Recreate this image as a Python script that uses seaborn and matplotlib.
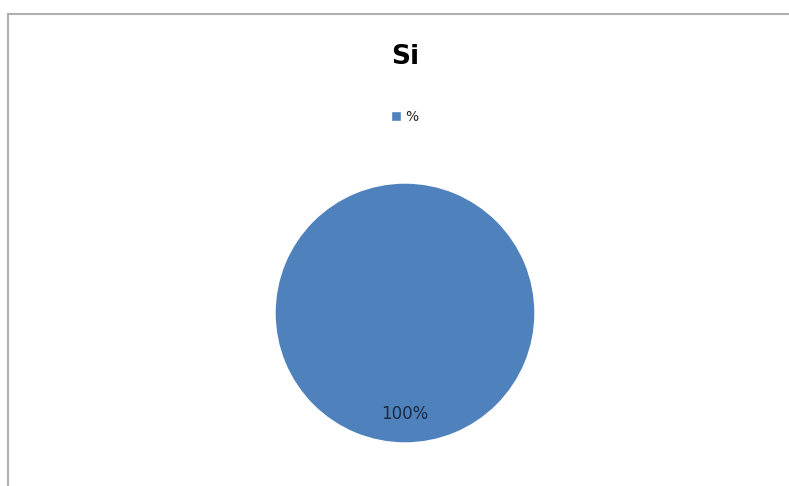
import matplotlib
matplotlib.use("Agg")
import matplotlib.pyplot as plt
import seaborn as sns
from matplotlib.patches import Rectangle

# Chart data
labels = ['%']
values = [100]
title = 'Si'

sns.set_theme(style="white")
plt.rcParams['font.family'] = ['DejaVu Sans']

fig = plt.figure(figsize=(7.89, 4.86), dpi=100)
W, H = 789, 486

# Frame of the chart area (cut off on right and bottom)
fig.patches.append(Rectangle((8 / W, -0.1), 1.2, (H - 14) / H + 0.1,
                             transform=fig.transFigure, fill=False,
                             edgecolor='#b0b0b0', linewidth=1.5))

# Pie axes: centre (405, 313), radius 130 px
r = 130
cx, cy = 405, 313
ax = fig.add_axes([(cx - r) / W, (H - cy - r) / H, 2 * r / W, 2 * r / H])
wedges, texts, autotexts = ax.pie(values, colors=['#4F81BD'], startangle=90,
                                  autopct='%1.0f%%', pctdistance=0.8,
                                  textprops={'fontsize': 12, 'color': '#1a2a40'})
ax.set_aspect('equal')
ax.set_xlim(-1, 1)
ax.set_ylim(-1, 1)
for t in autotexts:
    t.set_position((0, -0.78))

fig.text(cx / W, 1 - 57 / H, title, ha='center', va='center',
         fontsize=19, fontweight='bold', color='black')

fig.legend(wedges, labels, loc='center', bbox_to_anchor=(405 / W, 1 - 117 / H),
           frameon=False, fontsize=10, handlelength=0.7, handleheight=0.7,
           handletextpad=0.3)

fig.savefig('out.png', dpi=100, facecolor='white')
